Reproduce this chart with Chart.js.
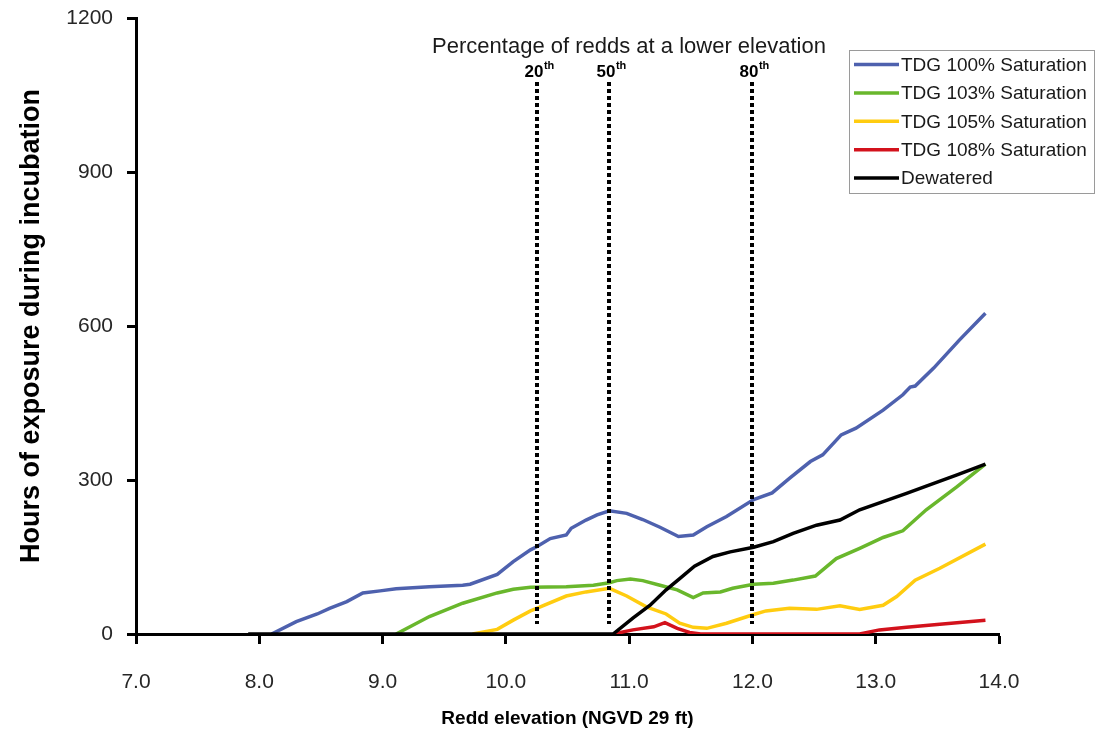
<!DOCTYPE html>
<html>
<head>
<meta charset="utf-8">
<script src="https://cdn.jsdelivr.net/npm/chart.js@4.4.1/dist/chart.umd.min.js"></script>
<style>
  html, body { margin: 0; padding: 0; background: #ffffff; }
  #wrap { width: 1106px; height: 736px; }
</style>
</head>
<body>
<div id="wrap"><canvas id="c" width="1106" height="736"></canvas></div>
<script>
// Redd elevation (ft) and hours of exposure for each TDG level
const blueElev  = [8.10, 8.30, 8.47, 8.57, 8.71, 8.84, 8.98, 9.11, 9.38, 9.65, 9.71, 9.93, 10.06, 10.20, 10.25, 10.36, 10.49, 10.53, 10.65, 10.74, 10.84, 10.98, 11.11, 11.25, 11.40, 11.52, 11.63, 11.79, 12.01, 12.16, 12.30, 12.47, 12.57, 12.72, 12.84, 13.06, 13.22, 13.28, 13.32, 13.47, 13.68, 13.89];
const blueHours = [0, 24, 39, 50, 63, 80, 84, 88, 92, 95, 97, 116, 141, 164, 170, 186, 193, 206, 222, 232, 240, 235, 223, 208, 190, 193, 209, 229, 262, 275, 303, 336, 349, 388, 401, 436, 466, 481, 483, 518, 573, 625];

const greenElev  = [9.11, 9.38, 9.65, 9.93, 10.06, 10.20, 10.49, 10.71, 10.84, 10.90, 11.01, 11.11, 11.25, 11.39, 11.52, 11.60, 11.74, 11.84, 12.01, 12.17, 12.33, 12.51, 12.68, 12.87, 13.06, 13.22, 13.41, 13.66, 13.89];
const greenHours = [0, 34, 60, 80, 87, 91, 92, 95, 100, 104, 107, 104, 95, 86, 71, 80, 82, 89, 97, 99, 105, 113, 147, 167, 188, 201, 242, 287, 331];

const yellowElev  = [9.73, 9.93, 10.06, 10.20, 10.25, 10.49, 10.65, 10.84, 10.98, 11.14, 11.30, 11.41, 11.52, 11.63, 11.79, 12.01, 12.11, 12.30, 12.52, 12.71, 12.87, 13.06, 13.17, 13.32, 13.52, 13.89];
const yellowHours = [0, 9, 27, 45, 50, 74, 82, 89, 74, 53, 39, 21, 13, 11, 21, 38, 45, 50, 48, 55, 48, 56, 73, 105, 128, 175];

const redElev  = [10.87, 11.03, 11.20, 11.29, 11.39, 11.49, 11.58, 12.87, 13.03, 13.25, 13.52, 13.89];
const redHours = [0, 8, 14, 22, 11, 3, 0, 0, 8, 13, 19, 27];

const dryElev  = [7.91, 10.87, 11.03, 11.17, 11.30, 11.41, 11.53, 11.68, 11.82, 12.01, 12.17, 12.33, 12.52, 12.71, 12.87, 13.06, 13.25, 13.41, 13.66, 13.89];
const dryHours = [0, 0, 31, 56, 86, 108, 132, 151, 160, 169, 180, 196, 212, 222, 242, 258, 274, 288, 310, 331];

const seriesNames  = ['TDG 100% Saturation', 'TDG 103% Saturation', 'TDG 105% Saturation', 'TDG 108% Saturation', 'Dewatered'];
const seriesColors = ['#4e61ae', '#69b72c', '#ffcc10', '#d3121c', '#000000'];

// Percentile elevations of redds
const pctElev   = [10.25, 10.84, 12.0];
const pctLabels = ['20', '50', '80'];

const xTicks = [7, 8, 9, 10, 11, 12, 13, 14];
const yTicks = [0, 300, 600, 900, 1200];

const FONT = '"Liberation Sans", Arial, Helvetica, sans-serif';

function pts(xs, ys) { return xs.map((x, i) => ({ x: x, y: ys[i] })); }

const seriesData = [
  pts(blueElev, blueHours),
  pts(greenElev, greenHours),
  pts(yellowElev, yellowHours),
  pts(redElev, redHours),
  pts(dryElev, dryHours)
];
const drawOrder = [4, 3, 2, 1, 0];

// Dotted percentile markers with their labels and header
const percentilePlugin = {
  id: 'percentiles',
  afterDatasetsDraw(chart) {
    const ctx = chart.ctx;
    const xs = chart.scales.x, ys = chart.scales.y;
    const top = chart.chartArea.top + 64;
    const bottom = ys.getPixelForValue(0) - 10;
    ctx.save();
    ctx.fillStyle = '#1a1a1a';
    ctx.font = '22px ' + FONT;
    ctx.textAlign = 'center';
    ctx.textBaseline = 'alphabetic';
    ctx.fillText('Percentage of redds at a lower elevation', 629, 53);
    pctElev.forEach((e, i) => {
      const px = Math.round(xs.getPixelForValue(e));
      ctx.strokeStyle = '#000';
      ctx.lineWidth = 4;
      ctx.setLineDash([4, 3]);
      ctx.beginPath();
      ctx.moveTo(px, top);
      ctx.lineTo(px, bottom);
      ctx.stroke();
      ctx.setLineDash([]);
      ctx.fillStyle = '#000';
      ctx.font = 'bold 17px ' + FONT;
      ctx.textAlign = 'center';
      const w = ctx.measureText(pctLabels[i]).width;
      ctx.fillText(pctLabels[i], px - 3, 77);
      ctx.font = 'bold 11px ' + FONT;
      ctx.textAlign = 'left';
      ctx.fillText('th', px - 3 + w / 2 + 0.5, 69);
    });
    ctx.restore();
  }
};

// Boxed legend in the upper right corner
const legendPlugin = {
  id: 'boxLegend',
  afterDraw(chart) {
    const ctx = chart.ctx;
    ctx.save();
    ctx.fillStyle = '#ffffff';
    ctx.fillRect(849.5, 50.5, 245, 143);
    ctx.strokeStyle = '#9a9a9a';
    ctx.lineWidth = 1;
    ctx.strokeRect(849.5, 50.5, 245, 143);
    ctx.font = '19px ' + FONT;
    ctx.textBaseline = 'middle';
    ctx.textAlign = 'left';
    seriesNames.forEach((name, i) => {
      const y = 64.5 + i * 28.4;
      ctx.strokeStyle = seriesColors[i];
      ctx.lineWidth = 3.5;
      ctx.beginPath();
      ctx.moveTo(854, y);
      ctx.lineTo(899, y);
      ctx.stroke();
      ctx.fillStyle = '#1a1a1a';
      ctx.fillText(name, 901, y + 1);
    });
    ctx.restore();
  }
};

new Chart(document.getElementById('c'), {
  type: 'line',
  data: {
    datasets: seriesData.map((d, i) => ({
      label: seriesNames[i],
      data: d,
      borderColor: seriesColors[i],
      backgroundColor: seriesColors[i],
      borderWidth: 3.5,
      pointRadius: 0,
      tension: 0,
      fill: false,
      order: drawOrder[i]
    }))
  },
  options: {
    responsive: false,
    animation: false,
    devicePixelRatio: 1,
    layout: { padding: { top: 18, right: 107, bottom: 0, left: 0 } },
    plugins: { legend: { display: false }, tooltip: { enabled: false } },
    scales: {
      x: {
        type: 'linear',
        min: 7, max: 14,
        afterBuildTicks: s => { s.ticks = xTicks.map(v => ({ value: v })); },
        afterFit: s => { s.height = 102; s.paddingLeft = 0; s.paddingRight = 0; },
        border: { display: true, color: '#000', width: 3 },
        grid: { drawOnChartArea: false, drawTicks: true, tickLength: 10, tickWidth: 3, tickColor: '#000' },
        ticks: {
          padding: 26,
          color: '#262626',
          font: { family: FONT, size: 21 },
          callback: v => Number(v).toFixed(1)
        },
        title: {
          display: true,
          text: 'Redd elevation (NGVD 29 ft)',
          color: '#000',
          font: { family: FONT, size: 19, weight: 'bold' },
          padding: { top: 0, bottom: 6 }
        }
      },
      y: {
        type: 'linear',
        min: 0, max: 1200,
        afterBuildTicks: s => { s.ticks = yTicks.map(v => ({ value: v })); },
        afterFit: s => { s.width = 136; s.paddingTop = 0; s.paddingBottom = 0; },
        border: { display: true, color: '#000', width: 3 },
        grid: { drawOnChartArea: false, drawTicks: true, tickLength: 9, tickWidth: 3, tickColor: '#000' },
        ticks: {
          padding: 14,
          color: '#262626',
          font: { family: FONT, size: 21 },
          callback: v => String(v)
        },
        title: {
          display: true,
          text: 'Hours of exposure during incubation',
          color: '#000',
          font: { family: FONT, size: 27, weight: 'bold' },
          padding: { top: 15, bottom: 0 }
        }
      }
    }
  },
  plugins: [percentilePlugin, legendPlugin]
});
</script>
</body>
</html>
